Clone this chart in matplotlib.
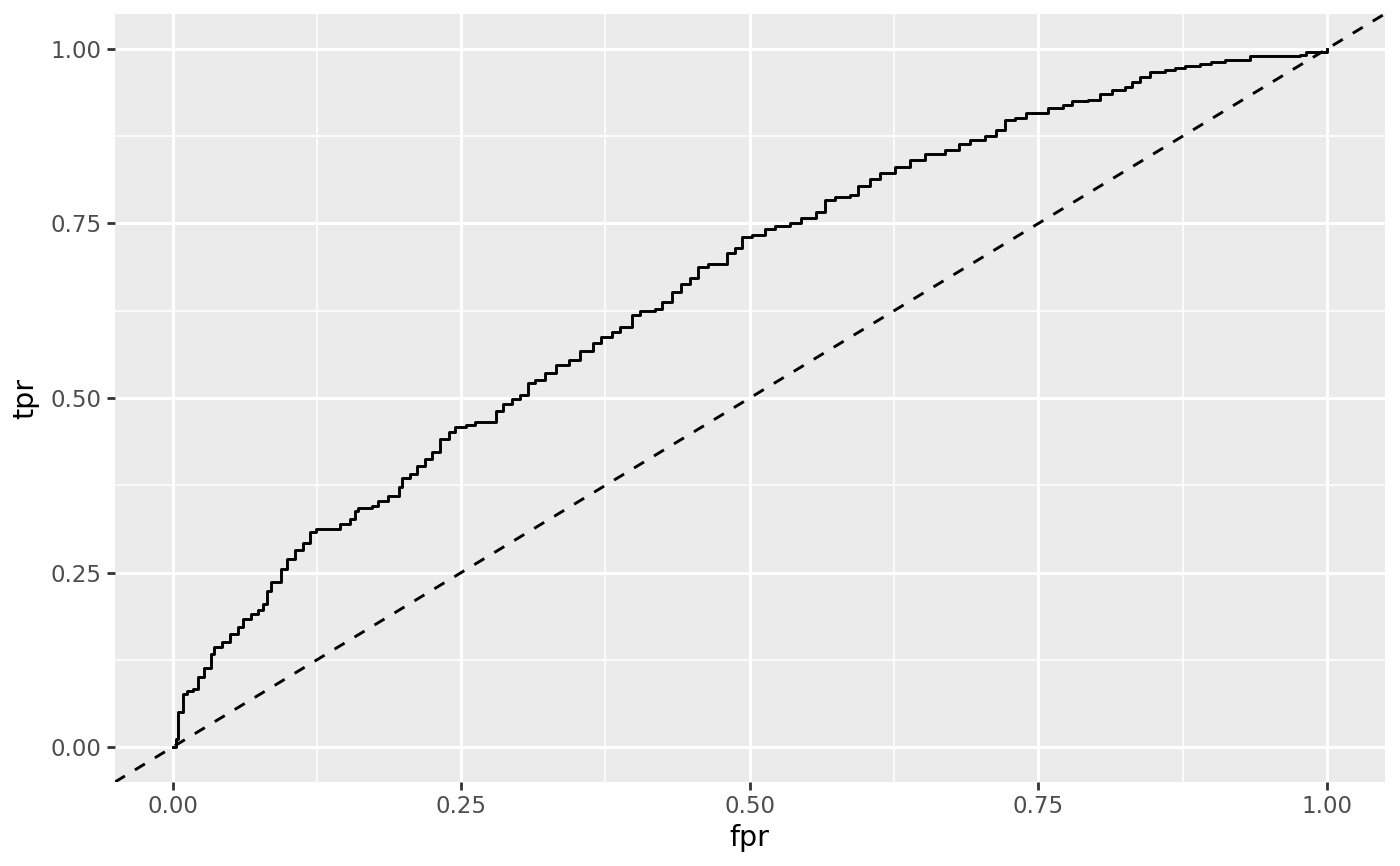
import numpy as np
import matplotlib
matplotlib.use("Agg")
import matplotlib.pyplot as plt

# ROC curve vertices
fpr = [0.000, 0.003, 0.005, 0.009, 0.012, 0.018, 0.022, 0.027, 0.033, 0.036,
       0.043, 0.050, 0.057, 0.061, 0.068, 0.074, 0.078, 0.082, 0.085, 0.090,
       0.094, 0.099, 0.106, 0.113, 0.119, 0.124, 0.132, 0.145, 0.154, 0.158,
       0.161, 0.173, 0.178, 0.187, 0.196, 0.199, 0.206, 0.212, 0.219, 0.225,
       0.232, 0.239, 0.245, 0.254, 0.262, 0.274, 0.280, 0.286, 0.294, 0.301,
       0.308, 0.314, 0.323, 0.332, 0.343, 0.353, 0.364, 0.371, 0.381, 0.388,
       0.398, 0.405, 0.418, 0.424, 0.433, 0.440, 0.448, 0.455, 0.464, 0.476,
       0.480, 0.487, 0.493, 0.502, 0.513, 0.522, 0.535, 0.544, 0.557, 0.565,
       0.574, 0.587, 0.594, 0.604, 0.613, 0.626, 0.639, 0.652, 0.669, 0.681,
       0.691, 0.704, 0.713, 0.721, 0.730, 0.739, 0.752, 0.758, 0.771, 0.779,
       0.793, 0.803, 0.814, 0.825, 0.831, 0.838, 0.847, 0.860, 0.868, 0.877,
       0.890, 0.900, 0.912, 0.933, 0.977, 0.982, 0.994, 1.000]
tpr = [0.000, 0.011, 0.050, 0.076, 0.080, 0.083, 0.100, 0.114, 0.133, 0.143,
       0.150, 0.162, 0.172, 0.183, 0.190, 0.197, 0.205, 0.223, 0.236, 0.237,
       0.255, 0.269, 0.283, 0.293, 0.308, 0.312, 0.312, 0.319, 0.326, 0.338,
       0.343, 0.346, 0.352, 0.360, 0.372, 0.386, 0.391, 0.403, 0.413, 0.423,
       0.441, 0.451, 0.458, 0.462, 0.466, 0.466, 0.481, 0.492, 0.498, 0.504,
       0.521, 0.526, 0.536, 0.548, 0.554, 0.568, 0.579, 0.587, 0.594, 0.602,
       0.619, 0.625, 0.628, 0.638, 0.652, 0.664, 0.672, 0.688, 0.692, 0.692,
       0.708, 0.715, 0.731, 0.734, 0.742, 0.747, 0.751, 0.758, 0.767, 0.784,
       0.788, 0.791, 0.804, 0.813, 0.823, 0.831, 0.841, 0.850, 0.855, 0.864,
       0.870, 0.876, 0.884, 0.898, 0.901, 0.908, 0.908, 0.916, 0.920, 0.926,
       0.927, 0.936, 0.941, 0.946, 0.953, 0.960, 0.967, 0.970, 0.973, 0.976,
       0.978, 0.981, 0.984, 0.990, 0.991, 0.996, 0.996, 1.000]

ticks = [0.0, 0.25, 0.5, 0.75, 1.0]
tick_labels = ["0.00", "0.25", "0.50", "0.75", "1.00"]

fig = plt.figure(figsize=(14, 8.66), dpi=100)
ax = fig.add_axes([0.0821, 0.097, 0.9069, 0.8868])
ax.set_facecolor("#EBEBEB")

# grid like ggplot theme_gray
for v in [0.125, 0.375, 0.625, 0.875]:
    ax.axvline(v, color="white", lw=1.1, zorder=0)
    ax.axhline(v, color="white", lw=1.1, zorder=0)
for v in ticks:
    ax.axvline(v, color="white", lw=2.2, zorder=0)
    ax.axhline(v, color="white", lw=2.2, zorder=0)

ax.plot(fpr, tpr, color="black", lw=2.1, drawstyle="steps-post", zorder=3)
ax.axline((0, 0), slope=1, color="black", lw=2.1, dashes=(4, 4), zorder=2)

ax.set_xlim(-0.05, 1.05)
ax.set_ylim(-0.05, 1.05)
ax.set_xticks(ticks)
ax.set_xticklabels(tick_labels)
ax.set_yticks(ticks)
ax.set_yticklabels(tick_labels)
ax.tick_params(axis="both", colors="#333333", labelcolor="#4D4D4D",
               labelsize=16.5, length=5.5, width=2, pad=4)
for s in ax.spines.values():
    s.set_visible(False)

ax.set_xlabel("fpr", fontsize=20.5, labelpad=4)
ax.set_ylabel("tpr", fontsize=20.5, labelpad=8)

fig.savefig("out.png", dpi=100)
